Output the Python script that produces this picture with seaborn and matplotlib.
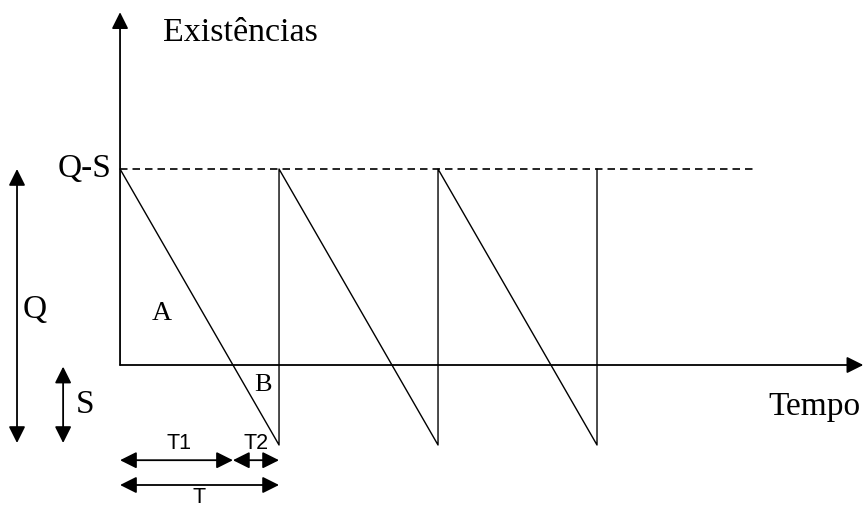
import numpy as np
import pandas as pd
import matplotlib
matplotlib.use("Agg")
import matplotlib.pyplot as plt
import seaborn as sns

sns.set_theme(style="white")
plt.rcParams["font.family"] = ["Liberation Serif", "DejaVu Serif"]
plt.rcParams["text.color"] = "black"

# Inventory model values (time in cycle units, stock level in arbitrary units)
cycle_starts = [0, 1, 2]
cycle_length = 1.0
level_top = 2.45        # Q-S: maximum stock after each replenishment
level_bottom = -1.0     # -S: deepest backorder level
dashed_end = 4.0

# Sawtooth: linear depletion, then instantaneous replenishment
xs, ys = [], []
for t0 in cycle_starts:
    xs += [t0, t0 + cycle_length]
    ys += [level_top, level_bottom]
xs.append(cycle_starts[-1] + cycle_length)
ys.append(level_top)
saw = pd.DataFrame({"tempo": xs, "existencias": ys})

# T1: time with positive stock, T2: time in shortage
t1 = cycle_length * level_top / (level_top - level_bottom)

fig = plt.figure(figsize=(8.63, 5.07), dpi=100)
ax = fig.add_axes([0, 0, 1, 1])
ax.set_xlim(-0.755, 4.673)
ax.set_ylim(-1.775, 4.5625)
ax.axis("off")

sns.lineplot(data=saw, x="tempo", y="existencias", sort=False, estimator=None,
             color="black", lw=1.0, ax=ax)

# Q-S reference level
sns.lineplot(x=[0, dashed_end], y=[level_top, level_top], color="black",
             lw=1.2, ax=ax)
ax.lines[-1].set_dashes([4.5, 3])

arrow = dict(arrowstyle="-|>", color="black", lw=1.3, mutation_scale=25,
             shrinkA=0, shrinkB=0)
dbl = dict(arrowstyle="<|-|>", color="black", lw=1.3, mutation_scale=25,
           shrinkA=0, shrinkB=0)

# Axes
ax.annotate("", xy=(0, 4.41), xytext=(0, 0), arrowprops=arrow)
ax.annotate("", xy=(4.675, 0), xytext=(0, 0), arrowprops=arrow)

# Q and S dimension arrows
ax.annotate("", xy=(-0.648, level_top), xytext=(-0.648, -0.975), arrowprops=dbl)
ax.annotate("", xy=(-0.358, -0.02), xytext=(-0.358, -0.975), arrowprops=dbl)

# Time dimension arrows
ax.annotate("", xy=(0, -1.19), xytext=(t1, -1.19), arrowprops=dbl)
ax.annotate("", xy=(t1, -1.19), xytext=(cycle_length, -1.19), arrowprops=dbl)
ax.annotate("", xy=(0, -1.5), xytext=(cycle_length, -1.5), arrowprops=dbl)

ax.text(0.27, 4.15, "Existências", fontsize=24.5, ha="left", va="center")
ax.text(4.075, -0.525, "Tempo", fontsize=24, ha="left", va="center")
ax.text(-0.055, level_top, "Q-S", fontsize=24, ha="right", va="center")
ax.text(-0.535, 0.6875, "Q", fontsize=24, ha="center", va="center")
ax.text(-0.22, -0.5, "S", fontsize=24, ha="center", va="center")
ax.text(0.264, 0.64, "A", fontsize=20, ha="center", va="center")
ax.text(0.9, -0.25, "B", fontsize=19, ha="center", va="center")

sans = ["Liberation Sans", "DejaVu Sans"]
ax.text(0.37, -0.98, "T1", fontsize=15.5, family=sans, ha="center", va="center")
ax.text(0.855, -0.98, "T2", fontsize=15.5, family=sans, ha="center", va="center")
ax.text(0.5, -1.66, "T", fontsize=15.5, family=sans, ha="center", va="center")

fig.savefig("out.png", dpi=100)
